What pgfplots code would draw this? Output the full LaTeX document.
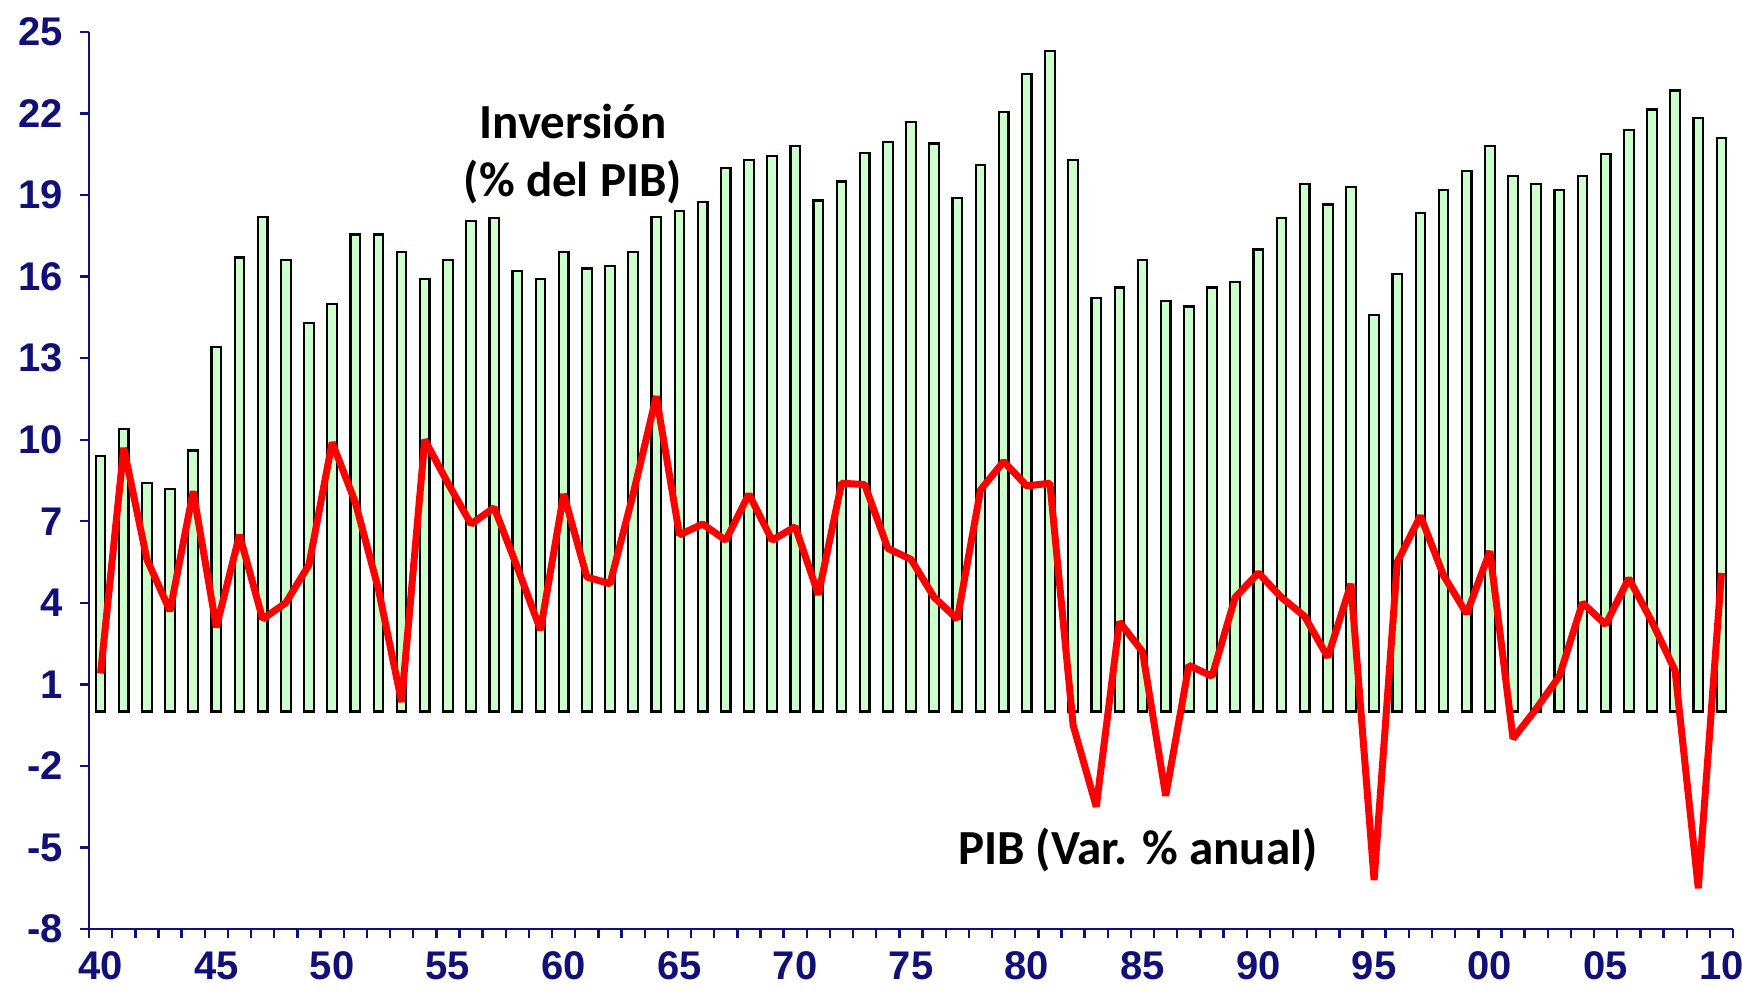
\documentclass[border=0pt]{standalone}
\usepackage{pgfplots}
\pgfplotsset{compat=1.18}
\usepackage{pgfplotstable}
\usepackage{fontspec}
\setmainfont{Liberation Sans}
\newfontfamily\carlito{Carlito}
\definecolor{navy}{RGB}{16,16,120}
\definecolor{barfill}{RGB}{204,255,204}

\pgfplotstableread{
year inv pib
1940 9.4 1.4
1941 10.4 9.7
1942 8.4 5.6
1943 8.2 3.7
1944 9.6 8.1
1945 13.4 3.1
1946 16.7 6.5
1947 18.2 3.4
1948 16.6 4.0
1949 14.3 5.4
1950 15.0 9.9
1951 17.55 7.7
1952 17.55 4.5
1953 16.9 0.35
1954 15.9 10.0
1955 16.6 8.4
1956 18.05 6.9
1957 18.15 7.5
1958 16.2 5.3
1959 15.9 3.0
1960 16.9 8.0
1961 16.3 4.95
1962 16.4 4.7
1963 16.9 8.0
1964 18.2 11.6
1965 18.4 6.5
1966 18.75 6.9
1967 20.0 6.3
1968 20.3 8.0
1969 20.45 6.3
1970 20.8 6.8
1971 18.8 4.3
1972 19.5 8.4
1973 20.55 8.35
1974 20.95 6.0
1975 21.7 5.6
1976 20.9 4.2
1977 18.9 3.4
1978 20.1 8.15
1979 22.05 9.2
1980 23.45 8.3
1981 24.3 8.4
1982 20.3 -0.5
1983 15.2 -3.5
1984 15.6 3.3
1985 16.6 2.2
1986 15.1 -3.1
1987 14.9 1.7
1988 15.6 1.3
1989 15.8 4.2
1990 17.0 5.1
1991 18.15 4.2
1992 19.4 3.5
1993 18.65 2.0
1994 19.3 4.7
1995 14.6 -6.2
1996 16.1 5.5
1997 18.35 7.2
1998 19.2 5.0
1999 19.9 3.6
2000 20.8 5.9
2001 19.7 -1.0
2002 19.4 0.1
2003 19.2 1.3
2004 19.7 4.0
2005 20.5 3.2
2006 21.4 4.9
2007 22.15 3.3
2008 22.85 1.5
2009 21.85 -6.5
2010 21.1 5.1
}\datatable

\begin{document}
\begin{tikzpicture}
\begin{axis}[
  scale only axis,
  width=822pt, height=448.5pt,
  xmin=1939.5, xmax=2010.5,
  ymin=-8, ymax=25,
  axis lines*=left,
  axis line style={navy, line width=1.2pt},
  tick style={navy, line width=1.2pt},
  tick align=outside,
  major tick length=4.5pt,
  xtick={1939.5,1940.5,...,2010.5},
  xticklabels={},
  extra x ticks={1940,1945,...,2010},
  extra x tick labels={40,45,50,55,60,65,70,75,80,85,90,95,00,05,10},
  extra x tick style={major tick length=0pt, tick style={draw=none},
    xticklabel style={yshift=-8pt}},
  ytick={-8,-5,...,25},
  /pgf/number format/assume math mode=true,
  ticklabel style={font=\fontsize{20pt}{21pt}\selectfont\bfseries, text=navy},
  yticklabel style={xshift=-5pt},
  clip=false,
]
\addplot[ybar, bar width=4.8pt, fill=barfill, draw=black, line width=1.1pt]
  table[x=year, y=inv] {\datatable};
\addplot[red, line width=3.5pt, line join=bevel, mark=none]
  table[x=year, y=pib] {\datatable};
\node[align=center, font=\carlito\fontsize{24.5pt}{29pt}\selectfont\bfseries]
  at (axis cs:1960.4,20.5) {Inversión\\(\% del PIB)};
\node[font=\carlito\fontsize{24.5pt}{29pt}\selectfont\bfseries]
  at (axis cs:1984.8,-5.1) {PIB (Var. \% anual)};
\end{axis}
\pgfresetboundingbox
\path[use as bounding box] ([xshift=-44.5pt,yshift=-32pt]current axis.south west) rectangle ([xshift=4.5pt,yshift=16pt]current axis.north east);
\end{tikzpicture}
\end{document}
